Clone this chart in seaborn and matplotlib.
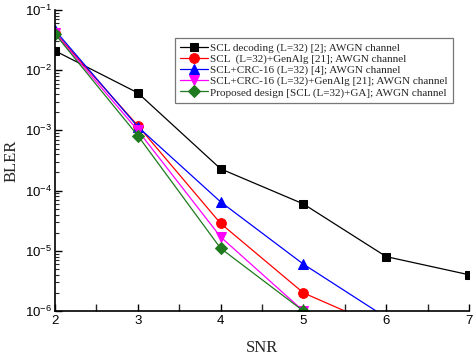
import matplotlib
matplotlib.use("Agg")
import matplotlib.pyplot as plt
import seaborn as sns
import pandas as pd
import numpy as np
from matplotlib.ticker import MultipleLocator, LogLocator, FixedLocator, FixedFormatter, NullFormatter

snr_black = [2, 3, 4, 5, 6, 7]
bler_black = [0.021, 4.2e-3, 2.3e-4, 6.0e-5, 8.0e-6, 4.0e-6]
snr_red = [2, 3, 4, 5, 6]
bler_red = [0.042, 1.2e-3, 2.85e-5, 2.0e-6, 5.0e-7]
snr_blue = [2, 3, 4, 5, 6]
bler_blue = [0.046, 1.15e-3, 6.5e-5, 6.0e-6, 7.8e-7]
snr_mag = [2, 3, 4, 5]
bler_mag = [0.041, 1.0e-3, 1.7e-5, 1.0e-6]
snr_green = [2, 3, 4, 5]
bler_green = [0.040, 8.2e-4, 1.1e-5, 1.0e-6]

labels = [
    "SCL decoding (L=32) [2]; AWGN channel",
    "SCL  (L=32)+GenAlg [21]; AWGN channel",
    "SCL+CRC-16 (L=32) [4]; AWGN channel",
    "SCL+CRC-16 (L=32)+GenAlg [21]; AWGN channel",
    "Proposed design [SCL (L=32)+GA]; AWGN channel",
]
series = [(snr_black, bler_black), (snr_red, bler_red), (snr_blue, bler_blue),
          (snr_mag, bler_mag), (snr_green, bler_green)]
colors = ["#000000", "#ff0000", "#0000ff", "#ff00ff", "#1f7a1f"]
markers = ["s", "o", "^", "v", "D"]
msizes = [6, 7, 7, 7, 6]

sns.set_theme(style="ticks")
plt.rcParams["font.family"] = ["Liberation Sans", "DejaVu Sans"]
plt.rcParams["mathtext.default"] = "regular"

fig = plt.figure(figsize=(4.74, 3.58), dpi=100)
ax = fig.add_axes([55/474, 1-311/358, (469-55)/474, (311-10)/358])

for (x, y), lab, c, m, ms in zip(series, labels, colors, markers, msizes):
    df = pd.DataFrame({"SNR": x, "BLER": y})
    sns.lineplot(data=df, x="SNR", y="BLER", ax=ax, color=c, marker=m,
                 markersize=ms, markeredgecolor=c, linewidth=0.9, label=lab)

ax.set_yscale("log")
ax.set_xlim(2, 7)
ax.set_ylim(1e-6, 1e-1)

ax.xaxis.set_major_locator(MultipleLocator(1))
ax.xaxis.set_minor_locator(MultipleLocator(0.5))
ax.yaxis.set_major_locator(FixedLocator([1e-6, 1e-5, 1e-4, 1e-3, 1e-2, 1e-1]))
ax.yaxis.set_major_formatter(FixedFormatter([r"$10^{-6}$", r"$10^{-5}$", r"$10^{-4}$",
                                             r"$10^{-3}$", r"$10^{-2}$", r"$10^{-1}$"]))
ax.yaxis.set_minor_locator(LogLocator(base=10, subs=np.arange(2, 10), numticks=20))
ax.yaxis.set_minor_formatter(NullFormatter())

ax.tick_params(axis="both", which="major", direction="in", length=5, width=1.0,
               labelsize=9.5, colors="black", pad=3)
ax.tick_params(axis="y", which="major", pad=2)
ax.tick_params(axis="x", which="minor", direction="in", length=5, width=1.0)
ax.tick_params(axis="y", which="minor", direction="in", length=3, width=0.8)

for s in ["top", "right"]:
    ax.spines[s].set_visible(False)
for s in ["left", "bottom"]:
    ax.spines[s].set_color("black")
    ax.spines[s].set_linewidth(1.2)

ax.set_xlabel("SNR", fontfamily="Liberation Serif", fontsize=12, labelpad=9)
ax.set_ylabel("BLER", fontfamily="Liberation Serif", fontsize=12, labelpad=4)

leg = ax.legend(loc="upper left", bbox_to_anchor=((175-55)/414, (311-38)/301),
                prop={"family": "Liberation Serif", "size": 8},
                frameon=True, fancybox=False, edgecolor="#555555",
                handlelength=2.5, handletextpad=0.2, labelspacing=0.1,
                borderpad=0.45, borderaxespad=0)
leg.get_frame().set_linewidth(0.9)
leg._legend_box.align = "right"

fig.savefig("out.png", dpi=100)
